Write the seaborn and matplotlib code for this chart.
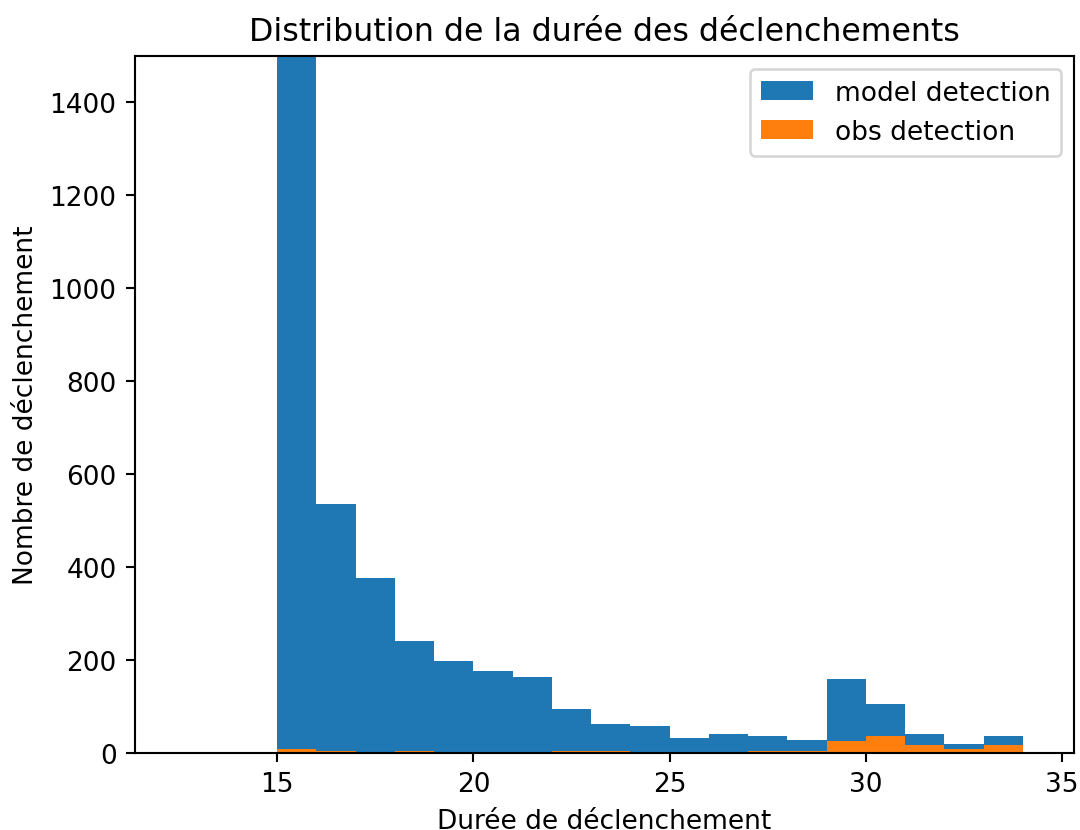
import matplotlib
matplotlib.use("Agg")
import matplotlib.pyplot as plt
import numpy as np
import pandas as pd
import seaborn as sns

# Trigger durations binned by one-unit steps, 15 to 34
bin_edges = list(range(15, 35))
bin_starts = bin_edges[:-1]
model_counts = [2400, 536, 377, 240, 199, 176, 163, 94, 62, 58,
                33, 41, 37, 29, 159, 106, 41, 20, 37]
obs_counts = [9, 5, 0, 5, 0, 0, 0, 5, 5, 0,
              0, 0, 4, 4, 25, 37, 17, 9, 17]

df = pd.DataFrame({"duree": bin_starts, "model": model_counts, "obs": obs_counts})

plt.rcParams["font.family"] = ["DejaVu Sans"]
plt.rcParams["font.size"] = 10

DPI = 190
fig = plt.figure(figsize=(1080 / DPI, 831 / DPI), dpi=DPI)
ax = fig.add_axes([135 / 1080, 1 - 754 / 831, (1074 - 135) / 1080, (754 - 57) / 831])

sns.histplot(data=df, x="duree", weights="model", bins=bin_edges, ax=ax,
             color="#1f77b4", alpha=1, linewidth=0, label="model detection")
sns.histplot(data=df, x="duree", weights="obs", bins=bin_edges, ax=ax,
             color="#ff7f0e", alpha=1, linewidth=0, label="obs detection")

ax.set_xlim(11.38, 35.3)
ax.set_ylim(0, 1500)
ax.set_xticks([15, 20, 25, 30, 35])
ax.set_yticks([0, 200, 400, 600, 800, 1000, 1200, 1400])
ax.set_title("Distribution de la durée des déclenchements", fontsize=12, pad=6)
ax.set_xlabel("Durée de déclenchement")
ax.set_ylabel("Nombre de déclenchement")
ax.legend(loc="upper right")

fig.savefig("out.png", dpi=DPI)
